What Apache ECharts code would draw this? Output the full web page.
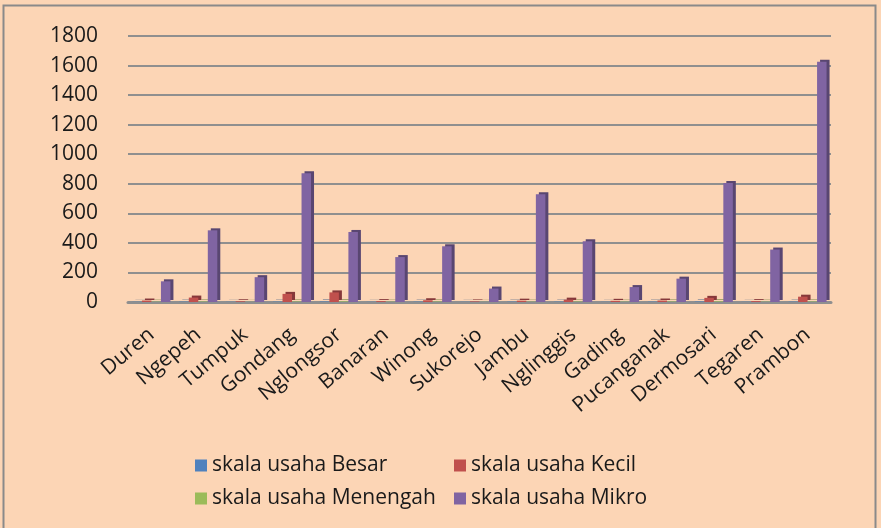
<!DOCTYPE html>
<html>
<head>
<meta charset="utf-8">
<script src="https://cdn.jsdelivr.net/npm/echarts@6/dist/echarts.min.js"></script>
<style>
  html, body { margin: 0; padding: 0; background: #fcd5b5; }
  #main { width: 881px; height: 528px; }
</style>
</head>
<body>
<div id="main"></div>
<script>
// desa / kelurahan
const categories = ['Duren', 'Ngepeh', 'Tumpuk', 'Gondang', 'Nglongsor', 'Banaran', 'Winong', 'Sukorejo',
    'Jambu', 'Nglinggis', 'Gading', 'Pucanganak', 'Dermosari', 'Tegaren', 'Prambon'];

// jumlah usaha per skala
const besar = [1, 2, 1, 2, 3, 1, 2, 1, 2, 2, 1, 2, 3, 1, 2];
const kecil = [10, 30, 5, 55, 65, 6, 12, 4, 9, 16, 8, 10, 28, 6, 36];
const menengah = [2, 3, 1, 3, 4, 2, 3, 1, 2, 3, 2, 3, 4, 2, 3];
const mikro = [140, 485, 168, 872, 474, 304, 377, 91, 729, 411, 101, 158, 805, 355, 1625];

const yTicks = [0, 200, 400, 600, 800, 1000, 1200, 1400, 1600, 1800];

const names = ['skala usaha Besar', 'skala usaha Kecil', 'skala usaha Menengah', 'skala usaha Mikro'];
const colors = ['#4f81bd', '#c0504d', '#9bbb59', '#8064a2'];
const sides = ['#375a85', '#86383a', '#6c833e', '#594671'];

const chart = echarts.init(document.getElementById('main'));

const mkSeries = (i, data) => ({
    name: names[i],
    type: 'bar',
    data: data,
    barWidth: 9.5,
    barGap: '0%',
    itemStyle: {
        color: colors[i],
        shadowColor: sides[i],
        shadowOffsetX: 3,
        shadowOffsetY: -2,
        shadowBlur: 0
    }
});

const legendBase = {
    orient: 'vertical',
    top: 450,
    itemGap: 12,
    itemWidth: 12,
    itemHeight: 12,
    icon: 'rect',
    textStyle: { fontSize: 21, color: '#1a1a1a' }
};

chart.setOption({
    backgroundColor: '#fcd5b5',
    animation: false,
    textStyle: { fontFamily: '"Open Sans", sans-serif', color: '#1a1a1a' },
    graphic: [{
        type: 'rect',
        shape: { x: 3.5, y: 5.5, width: 872, height: 540 },
        style: { fill: null, stroke: '#8a8a8a', lineWidth: 2 },
        silent: true
    }],
    grid: { left: 128, right: 50, top: 36, bottom: 226 },
    legend: [
        Object.assign({ left: 190, data: [names[0], names[2]] }, legendBase),
        Object.assign({ left: 449, data: [names[1], names[3]] }, legendBase)
    ],
    xAxis: {
        type: 'category',
        data: categories,
        axisLine: { lineStyle: { color: '#8f8f8f', width: 3 } },
        axisTick: { show: false },
        axisLabel: {
            rotate: 40,
            fontSize: 21,
            color: '#1a1a1a',
            margin: 30,
            interval: 0
        }
    },
    yAxis: {
        type: 'value',
        min: yTicks[0],
        max: yTicks[yTicks.length - 1],
        interval: 200,
        axisLine: { show: false },
        axisTick: { show: false },
        axisLabel: { fontSize: 21, color: '#1a1a1a', margin: 30, formatter: (v) => String(v) },
        splitLine: { lineStyle: { color: '#8f8f8f', width: 2 } }
    },
    series: [mkSeries(0, besar), mkSeries(1, kecil), mkSeries(2, menengah), mkSeries(3, mikro)]
});
</script>
</body>
</html>
